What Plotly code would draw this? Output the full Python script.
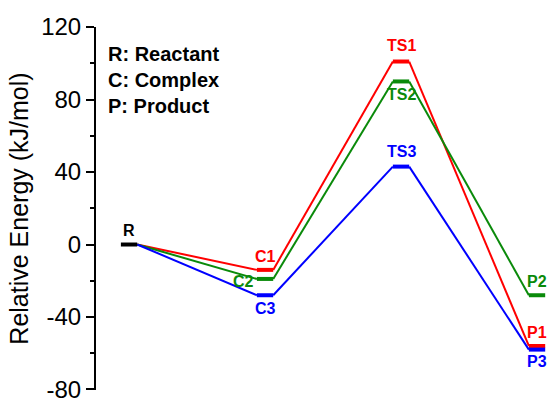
import plotly.graph_objects as go

# Reaction coordinate positions of the stationary points
stage_x = [1, 2, 3, 4]

# Relative energies (kJ/mol) along each pathway: R, C, TS, P
path1_energy = [0, -14, 101, -56]
path2_energy = [0, -19, 90, -28]
path3_energy = [0, -28, 43, -58]

path1_labels = ["C1", "TS1", "P1"]
path2_labels = ["C2", "TS2", "P2"]
path3_labels = ["C3", "TS3", "P3"]

legend_lines = ["R: Reactant", "C: Complex", "P: Product"]

# y-axis ticks, written with a plain hyphen for negatives
y_tick_values = [-80, -40, 0, 40, 80, 120]
y_tick_text = [str(v) for v in y_tick_values]

RED, GREEN, BLUE = "#ff0000", "#0a8a0a", "#0000ff"
HALF = 0.06  # half-width of an energy level bar
FONT = "Liberation Sans, Arial, sans-serif"

fig = go.Figure()


def add_path(energies, color):
    # connector lines from the right end of each level to the left end of the next
    cx, cy = [], []
    for i in range(len(stage_x) - 1):
        cx += [stage_x[i] + HALF, stage_x[i + 1] - HALF, None]
        cy += [energies[i], energies[i + 1], None]
    fig.add_trace(go.Scatter(x=cx, y=cy, mode="lines",
                             line=dict(color=color, width=2), hoverinfo="skip"))
    # thick level bars (except the shared reactant)
    lx, ly = [], []
    for xi, e in zip(stage_x[1:], energies[1:]):
        lx += [xi - HALF, xi + HALF, None]
        ly += [e, e, None]
    fig.add_trace(go.Scatter(x=lx, y=ly, mode="lines",
                             line=dict(color=color, width=4), hoverinfo="skip"))


add_path(path1_energy, RED)
add_path(path2_energy, GREEN)
add_path(path3_energy, BLUE)

# shared reactant level
fig.add_trace(go.Scatter(x=[stage_x[0] - HALF, stage_x[0] + HALF],
                         y=[path1_energy[0], path1_energy[0]], mode="lines",
                         line=dict(color="black", width=4), hoverinfo="skip"))

annotations = []


def label(x, y, text, color, xshift=0, yshift=0):
    annotations.append(dict(x=x, y=y, text=f"<b>{text}</b>", showarrow=False,
                            xshift=xshift, yshift=yshift,
                            font=dict(family=FONT, size=16, color=color)))


label(stage_x[0], path1_energy[0], "R", "black", yshift=14)

# label placement: (xshift, yshift) per stationary point
offsets1 = [(0, 13), (0, 16), (0, 13)]
offsets2 = [(-22, -3), (0, -13), (0, 14)]
offsets3 = [(0, -13), (0, 15), (0, -12)]
for labels, energies, color, offs in [
        (path1_labels, path1_energy, RED, offsets1),
        (path2_labels, path2_energy, GREEN, offsets2),
        (path3_labels, path3_energy, BLUE, offsets3)]:
    for xi, e, t, (dx, dy) in zip(stage_x[1:], energies[1:], labels, offs):
        label(xi, e, t, color, dx, dy)

for i, line in enumerate(legend_lines):
    annotations.append(dict(xref="paper", yref="paper", x=0.022, y=0.925 - i * 0.071,
                            xanchor="left", yanchor="middle", showarrow=False,
                            text=f"<b>{line}</b>",
                            font=dict(family=FONT, size=20, color="black")))

fig.update_layout(
    width=549, height=405,
    margin=dict(l=96, r=0, t=27, b=15),
    paper_bgcolor="white", plot_bgcolor="white",
    showlegend=False,
    annotations=annotations,
    xaxis=dict(range=[0.757, 4.088], visible=False),
    yaxis=dict(
        range=[-80.3, 120.05], tickvals=y_tick_values, ticktext=y_tick_text,
        automargin=False,
        showline=True, linecolor="black", linewidth=2,
        ticks="outside", ticklen=8, tickwidth=2, tickcolor="black",
        ticklabeloverflow="allow",
        minor=dict(dtick=20, tick0=0, ticks="outside", ticklen=4, tickwidth=2,
                   tickcolor="black"),
        showgrid=False, zeroline=False,
        tickfont=dict(family=FONT, size=24, color="black"),
        title=dict(text="Relative Energy (kJ/mol)", standoff=5,
                   font=dict(family=FONT, size=25, color="black")),
    ),
)

fig.write_html("out.html")
